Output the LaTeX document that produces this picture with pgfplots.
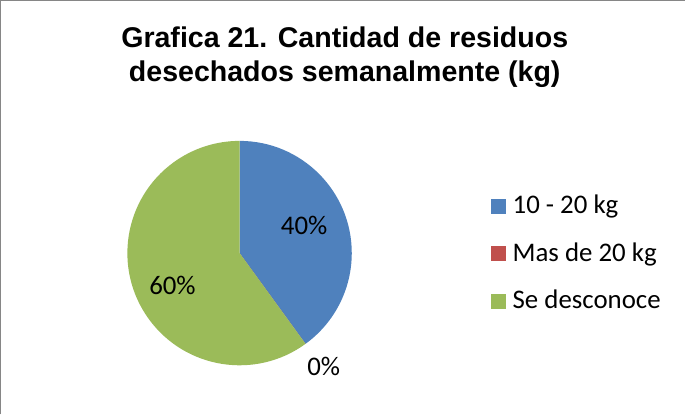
\documentclass[border=0pt]{standalone}
\usepackage{pgfplots}
\usepackage{pgfplotstable}
\pgfplotsset{compat=1.18}
\usepackage{fontspec}
\setmainfont{Carlito}
\newfontfamily\titlefont{Liberation Sans}
\definecolor{cBlue}{HTML}{4F81BD}
\definecolor{cRed}{HTML}{C0504D}
\definecolor{cGreen}{HTML}{9BBB59}
\definecolor{cBorder}{HTML}{868686}

\pgfplotstableread{
id value
1 40
2 0
3 60
}\piedata

\begin{document}
\begin{tikzpicture}[x=1pt,y=1pt]
\pgfplotstablegetelem{0}{value}\of\piedata \pgfmathsetmacro\vA{\pgfplotsretval}
\pgfplotstablegetelem{1}{value}\of\piedata \pgfmathsetmacro\vB{\pgfplotsretval}
\pgfplotstablegetelem{2}{value}\of\piedata \pgfmathsetmacro\vC{\pgfplotsretval}
\pgfmathsetmacro\total{\vA+\vB+\vC}
\pgfmathsetmacro\angA{90}
\pgfmathsetmacro\angB{\angA-360*(\vA/\total)}
\pgfmathsetmacro\angC{\angB-360*(\vB/\total)}
\pgfmathsetmacro\angD{\angC-360*(\vC/\total)}
\begin{axis}[
  at={(0,0)}, anchor=origin,
  x=1pt, y=1pt,
  xmin=0, xmax=686, ymin=0, ymax=414,
  hide axis, clip=false,
  legend cell align=left,
  legend style={draw=none, fill=none, at={(axis cs:492,218.7)}, anchor=north west,
    font=\fontsize{26.8}{31}\selectfont, row sep=23.5pt,
    inner sep=0pt,
    nodes={inner sep=1pt, text height=17pt, text depth=5pt},
    /tikz/every odd column/.append style={column sep=6pt}},
  legend image code/.code={\fill[#1] (0pt,-5.45pt) rectangle (14pt,8.55pt);},
]
% border (top and left visible)
\draw[cBorder, line width=1.3pt] (axis cs:2.5,0) -- (axis cs:2.5,413) -- (axis cs:686,413);
% pie wedges from data
\fill[cBlue]  (axis cs:241,161) -- ++(\angA:112) arc[start angle=\angA, end angle=\angB, radius=112] -- cycle;
\fill[cRed]   (axis cs:241,161) -- ++(\angB:112) arc[start angle=\angB, end angle=\angC, radius=112] -- cycle;
\fill[cGreen] (axis cs:241,161) -- ++(\angC:112) arc[start angle=\angC, end angle=\angD, radius=112] -- cycle;
\addlegendimage{cBlue}
\addlegendentry{10 - 20 kg}
\addlegendimage{cRed}
\addlegendentry{Mas de 20 kg}
\addlegendimage{cGreen}
\addlegendentry{Se desconoce}
% data labels
\node[font=\fontsize{26.8}{31}\selectfont, anchor=center] at (axis cs:305.5,189) {40\%};
\node[font=\fontsize{26.8}{31}\selectfont, anchor=center] at (axis cs:174,128.5) {60\%};
\node[font=\fontsize{26.8}{31}\selectfont, anchor=center] at (axis cs:325,48) {0\%};
% title
\node[font=\titlefont\bfseries\fontsize{28.5}{34}\selectfont, anchor=base] at (axis cs:346,366.5) {Grafica 21. Cantidad de residuos};
\node[font=\titlefont\bfseries\fontsize{28.5}{34}\selectfont, anchor=base] at (axis cs:346,332.3) {desechados semanalmente (kg)};
\end{axis}
\end{tikzpicture}
\end{document}
